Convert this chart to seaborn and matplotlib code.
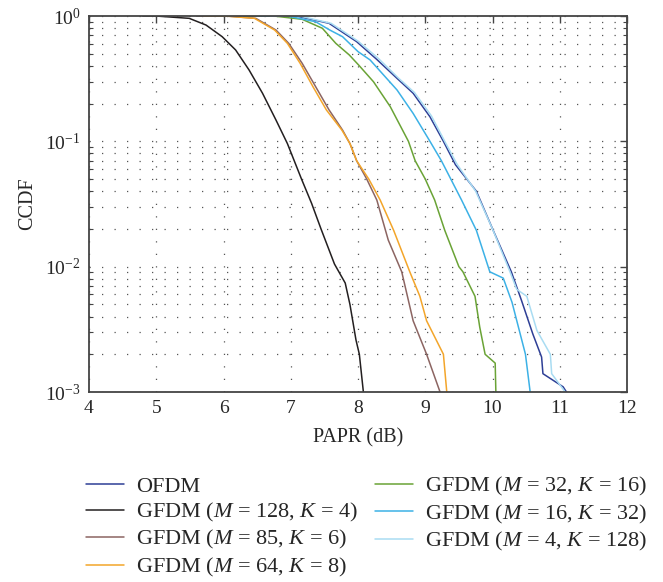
import numpy as np
import pandas as pd
import matplotlib
matplotlib.use("Agg")
import matplotlib.pyplot as plt
import seaborn as sns
from matplotlib.ticker import LogLocator, NullFormatter

# ---------------- data ----------------
labels = ["OFDM",
          "GFDM ($M$ = 128, $K$ = 4)",
          "GFDM ($M$ = 85, $K$ = 6)",
          "GFDM ($M$ = 64, $K$ = 8)",
          "GFDM ($M$ = 32, $K$ = 16)",
          "GFDM ($M$ = 16, $K$ = 32)",
          "GFDM ($M$ = 4, $K$ = 128)"]

colors = ["#2e3f96", "#231f20", "#8c6562", "#f3a52a", "#6aa336", "#3cb1e6", "#a9dcf2"]

ofdm_x = [7.0, 7.1, 7.57, 7.98, 8.28, 8.58, 8.82, 9.07, 9.27, 9.45, 9.76, 10.01, 10.28, 10.43, 10.60, 10.73, 10.75, 11.05, 11.10]
ofdm_y = [1.0, 0.995, 0.874, 0.624, 0.45, 0.318, 0.242, 0.157, 0.1, 0.065, 0.04, 0.0195, 0.0091, 0.0054, 0.0029, 0.0019, 0.0014, 0.0011, 0.001]

m128_x = [4.8, 5.0, 5.49, 5.74, 5.98, 6.18, 6.38, 6.58, 6.78, 6.95, 7.16, 7.31, 7.45, 7.65, 7.81, 7.88, 7.97, 8.02, 8.08]
m128_y = [1.0, 0.999, 0.958, 0.847, 0.684, 0.536, 0.371, 0.242, 0.148, 0.096, 0.05, 0.032, 0.02, 0.0105, 0.0074, 0.005, 0.0026, 0.002, 0.001]

m85_x = [5.6, 6.08, 6.48, 6.78, 6.97, 7.17, 7.37, 7.57, 7.77, 7.88, 7.98, 8.13, 8.28, 8.45, 8.65, 8.82, 9.02, 9.22]
m85_y = [1.0, 0.995, 0.958, 0.773, 0.605, 0.419, 0.273, 0.178, 0.123, 0.096, 0.07, 0.05, 0.034, 0.0163, 0.0091, 0.0037, 0.002, 0.001]

m64_x = [5.7, 6.08, 6.46, 6.76, 6.95, 7.14, 7.33, 7.53, 7.76, 7.88, 7.98, 8.16, 8.33, 8.53, 8.77, 8.92, 9.02, 9.27, 9.32]
m64_y = [1.0, 0.995, 0.958, 0.773, 0.605, 0.419, 0.273, 0.178, 0.123, 0.096, 0.07, 0.05, 0.034, 0.0195, 0.0091, 0.0058, 0.0037, 0.002, 0.001]

m32_x = [6.3, 6.78, 7.17, 7.47, 7.67, 7.87, 8.01, 8.23, 8.48, 8.75, 8.85, 9.0, 9.14, 9.29, 9.5, 9.56, 9.74, 9.81, 9.89, 10.04, 10.05]
m32_y = [1.0, 0.995, 0.941, 0.798, 0.605, 0.489, 0.406, 0.299, 0.189, 0.1, 0.07, 0.05, 0.034, 0.0195, 0.01, 0.0091, 0.0058, 0.0033, 0.002, 0.0017, 0.001]

m16_x = [6.5, 6.97, 7.37, 7.58, 7.77, 8.0, 8.18, 8.58, 8.82, 9.07, 9.24, 9.38, 9.54, 9.76, 9.96, 10.16, 10.29, 10.49, 10.56]
m16_y = [1.0, 0.995, 0.9, 0.773, 0.684, 0.52, 0.446, 0.257, 0.167, 0.1, 0.07, 0.05, 0.034, 0.0195, 0.0091, 0.0081, 0.0052, 0.002, 0.001]

m4_x = [6.7, 7.15, 7.6, 8.0, 8.3, 8.6, 8.84, 9.09, 9.29, 9.47, 9.75, 10.0, 10.26, 10.36, 10.51, 10.66, 10.86, 10.88, 11.08]
m4_y = [1.0, 0.995, 0.874, 0.63, 0.46, 0.32, 0.245, 0.16, 0.1, 0.066, 0.04, 0.02, 0.0091, 0.0066, 0.0058, 0.0031, 0.002, 0.0014, 0.001]

xs = [ofdm_x, m128_x, m85_x, m64_x, m32_x, m16_x, m4_x]
ys = [ofdm_y, m128_y, m85_y, m64_y, m32_y, m16_y, m4_y]

x_ticks = [4, 5, 6, 7, 8, 9, 10, 11, 12]

# ---------------- build table ----------------
frames = []
for lab, x, y in zip(labels, xs, ys):
    frames.append(pd.DataFrame({"PAPR": x, "CCDF": y, "series": lab}))
df = pd.concat(frames, ignore_index=True)

# ---------------- style ----------------
sns.set_theme(style="white")
plt.rcParams["font.family"] = ["Liberation Serif", "DejaVu Serif"]
plt.rcParams["mathtext.fontset"] = "custom"
plt.rcParams["mathtext.rm"] = "Liberation Serif"
plt.rcParams["mathtext.it"] = "Liberation Serif:italic"
plt.rcParams["mathtext.bf"] = "Liberation Serif:bold"

fig = plt.figure(figsize=(6.63, 5.82), dpi=100)
ax = fig.add_axes([89 / 663, 1 - 392 / 582, (627 - 89) / 663, (392 - 16) / 582])

sns.lineplot(data=df, x="PAPR", y="CCDF", hue="series", hue_order=labels,
             palette=dict(zip(labels, colors)), sort=False, estimator=None,
             linewidth=1.1, ax=ax, legend=True)

ax.set_yscale("log")
ax.set_xlim(4, 12)
ax.set_ylim(1e-3, 1)
ax.set_xticks(x_ticks)
ax.set_xticklabels([str(t) for t in x_ticks])
ax.yaxis.set_major_locator(LogLocator(base=10, numticks=10))
ax.yaxis.set_minor_locator(LogLocator(base=10, subs=np.arange(2, 10), numticks=20))
ax.yaxis.set_minor_formatter(NullFormatter())

grid_kw = dict(color="#555555", linewidth=0.9, linestyle=(0, (1, 9)))
ax.grid(True, which="major", axis="both", **grid_kw)
ax.grid(True, which="minor", axis="y", **grid_kw)

for s in ax.spines.values():
    s.set_color("#444444")
    s.set_linewidth(1.3)

ax.tick_params(axis="both", which="major", direction="in", length=5, width=1.0,
               color="#444444", top=True, right=True, labelsize=14, pad=6)
ax.tick_params(axis="y", which="minor", direction="in", length=3, width=0.8,
               color="#444444", left=True, right=True)
ax.tick_params(axis="x", which="minor", bottom=False, top=False)

ax.set_xlabel("PAPR (dB)", fontsize=14.5, labelpad=8)
ax.set_ylabel("CCDF", fontsize=14.5, labelpad=6)

handles, labs = ax.get_legend_handles_labels()
ax.legend_.remove()
fig.legend(handles, labs, loc="upper left", bbox_to_anchor=(86 / 663, 1 - 475 / 582),
           bbox_transform=fig.transFigure, ncol=2, frameon=False, fontsize=16,
           handlelength=1.7, handletextpad=0.55, columnspacing=0.75,
           labelspacing=0.2, borderpad=0, borderaxespad=0)

fig.savefig("out.png", dpi=100)
